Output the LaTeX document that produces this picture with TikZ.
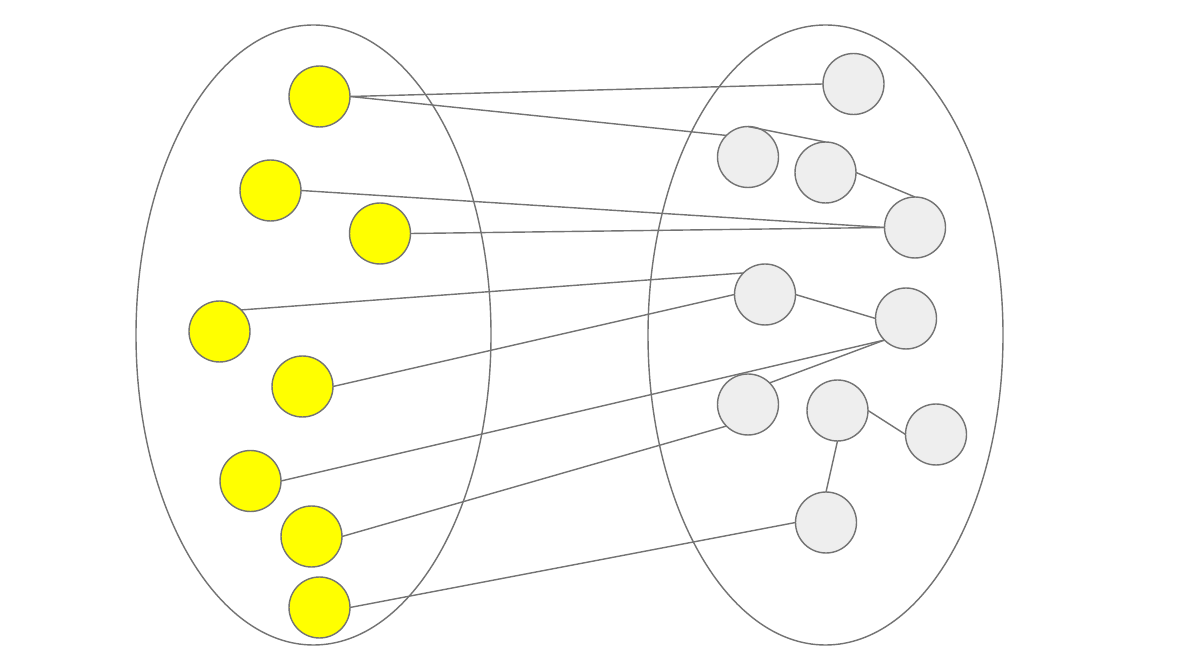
\documentclass[tikz,border=0pt]{standalone}
\begin{document}
\begin{tikzpicture}[x=0.02cm,y=-0.02cm,
  ring/.style={draw=black!55,line width=0.8pt},
  yel/.style={circle,draw=black!55,line width=0.8pt,fill={rgb,255:red,255;green,255;blue,0},minimum size=1.22cm,inner sep=0pt,outer sep=0pt},
  gry/.style={circle,draw=black!55,line width=0.8pt,fill={rgb,255:red,238;green,238;blue,238},minimum size=1.22cm,inner sep=0pt,outer sep=0pt},
  edge/.style={draw=black!55,line width=0.8pt}]
\useasboundingbox[fill=white] (0,0) rectangle (1200,671);
\draw[ring] (313.5,335) ellipse [x radius=177.5, y radius=310];
\draw[ring] (825.5,335) ellipse [x radius=177.5, y radius=310];
\node[yel] (Y1) at (319.5,96.5) {};
\node[yel] (Y2) at (270.5,190.5) {};
\node[yel] (Y3) at (380,233.5) {};
\node[yel] (Y4) at (219.5,331.5) {};
\node[yel] (Y5) at (302.5,386.5) {};
\node[yel] (Y6) at (250.5,481) {};
\node[yel] (Y7) at (311.5,536.5) {};
\node[yel] (Y8) at (319.5,607.5) {};
\node[gry] (G1) at (853.5,84) {};
\node[gry] (G2) at (748,157) {};
\node[gry] (G3) at (825.5,172.5) {};
\node[gry] (G4) at (915,227.5) {};
\node[gry] (G5) at (765,294.5) {};
\node[gry] (G6) at (906,318.5) {};
\node[gry] (G7) at (748,404.5) {};
\node[gry] (G8) at (837.5,410.5) {};
\node[gry] (G9) at (936,434.5) {};
\node[gry] (G10) at (826,522.5) {};
\draw[edge] (Y1.east) -- (G1.west);
\draw[edge] (Y1.east) -- (G2.north west);
\draw[edge] (G2.north) -- (G3.north);
\draw[edge] (G3.east) -- (G4.north);
\draw[edge] (Y2.east) -- (G4.west);
\draw[edge] (Y3.east) -- (G4.west);
\draw[edge] (Y4.north east) -- (G5.north west);
\draw[edge] (Y5.east) -- (G5.west);
\draw[edge] (G5.east) -- (G6.west);
\draw[edge] (Y6.east) -- (G6.south west);
\draw[edge] (G7.north east) -- (G6.south west);
\draw[edge] (Y7.east) -- (G7.south west);
\draw[edge] (G8.east) -- (G9.west);
\draw[edge] (G8.south) -- (G10.north);
\draw[edge] (Y8.east) -- (G10.west);
\end{tikzpicture}
\end{document}
